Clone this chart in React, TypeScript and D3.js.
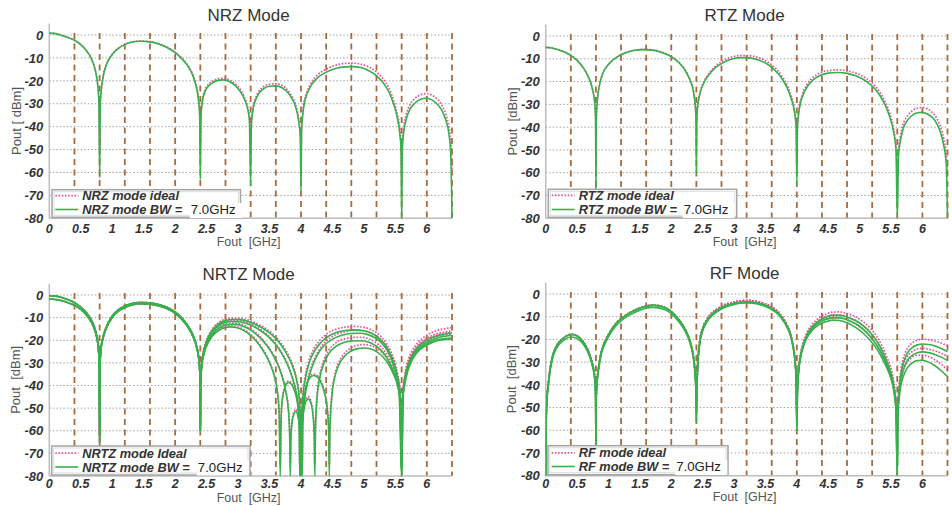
import React from "react";
import * as d3 from "d3";

type Pt = [number, number];

// ---------- axis / label data ----------
const xTickValues = [0, 0.5, 1, 1.5, 2, 2.5, 3, 3.5, 4, 4.5, 5, 5.5, 6];
const xTickLabels = ["0", "0.5", "1", "1.5", "2", "2.5", "3", "3.5", "4", "4.5", "5", "5.5", "6"];
const yTickValues = [0, -10, -20, -30, -40, -50, -60, -70, -80];
const yTickLabels = ["0", "-10", "-20", "-30", "-40", "-50", "-60", "-70", "-80"];
const gridFreqs = [0.4, 0.8, 1.2, 1.6, 2.0, 2.4, 2.8, 3.2, 3.6, 4.0, 4.4, 4.8, 5.2, 5.6, 6.0, 6.4];
const panelTitles = ["NRZ Mode", "RTZ Mode", "NRTZ Mode", "RF Mode"];
const yAxisLabels = ["Pout [ dBm]", "Pout  [dBm]", "Pout  [dBm]", "Pout  [dBm]"];
const xAxisLabel = "Fout  [GHz]";
const legendIdealLabels = ["NRZ mode ideal", "RTZ mode ideal", "NRTZ mode Ideal", "RF mode ideal"];
const legendBwLabels = ["NRZ mode BW =", "RTZ mode BW =", "NRTZ mode BW =", "RF mode BW ="];
const bwValueLabel = "7.0GHz";

// ---------- NRZ ----------
const nrzBw: Pt[] = [
  [0, 0.8], [0.1, 0.6], [0.2, -0.2], [0.3, -1.1], [0.4, -2.3], [0.5, -4.2], [0.6, -7.2], [0.65, -9.3], [0.7, -12.5],
  [0.74, -16.5], [0.77, -22], [0.79, -30], [0.8, -62], [0.81, -30], [0.83, -23], [0.86, -17.5], [0.9, -13.5], [1.0, -8.5],
  [1.1, -5.8], [1.2, -4.2], [1.3, -3.2], [1.45, -2.7], [1.6, -3.0], [1.7, -3.6], [1.8, -4.6], [1.9, -5.9], [2.0, -7.7],
  [2.1, -10.2], [2.2, -13.5], [2.27, -17], [2.33, -22], [2.37, -28], [2.39, -35], [2.4, -63], [2.41, -36], [2.43, -29.5],
  [2.47, -25], [2.53, -22.3], [2.6, -20.8], [2.68, -19.8], [2.75, -19.6], [2.85, -20.2], [2.95, -22], [3.03, -24.5],
  [3.1, -28], [3.15, -32], [3.18, -37], [3.2, -66], [3.21, -40], [3.23, -34], [3.27, -29], [3.33, -25.5], [3.42, -23.2],
  [3.5, -22.4], [3.6, -22.2], [3.7, -23], [3.78, -24.8], [3.85, -27.5], [3.91, -31], [3.96, -37], [3.99, -45], [4.0, -68],
  [4.01, -42], [4.04, -32], [4.08, -27], [4.15, -22.5], [4.25, -19], [4.4, -16.2], [4.55, -14.6], [4.7, -13.9], [4.82, -13.8],
  [4.95, -14.2], [5.08, -15.6], [5.2, -17.8], [5.3, -20.6], [5.4, -25], [5.47, -30], [5.53, -36], [5.57, -43], [5.59, -50],
  [5.6, -80], [5.61, -50], [5.63, -43], [5.67, -37], [5.73, -32.5], [5.8, -30], [5.9, -28], [5.98, -27.6], [6.07, -28.2],
  [6.15, -29.8], [6.23, -32.5], [6.3, -37], [6.35, -43], [6.38, -52], [6.4, -80],
];
const nrzIdeal: Pt[] = [
  [0, 0.8], [0.1, 0.6], [0.2, -0.2], [0.3, -1.1], [0.4, -2.3], [0.5, -4.2], [0.6, -7.2], [0.65, -9.3], [0.7, -12.5],
  [0.74, -16.5], [0.77, -22], [0.79, -30], [0.8, -50], [0.81, -30], [0.83, -23], [0.86, -17.5], [0.9, -13.4], [1.0, -8.4],
  [1.1, -5.7], [1.2, -4.1], [1.3, -3.1], [1.45, -2.6], [1.6, -2.9], [1.7, -3.4], [1.8, -4.4], [1.9, -5.7], [2.0, -7.5],
  [2.1, -9.9], [2.2, -13.2], [2.27, -16.6], [2.33, -21.5], [2.37, -27.5], [2.39, -34], [2.4, -50], [2.41, -35], [2.43, -29],
  [2.47, -24.3], [2.53, -21.6], [2.6, -20.1], [2.68, -19.1], [2.75, -18.9], [2.85, -19.5], [2.95, -21.2], [3.03, -23.6],
  [3.1, -27], [3.15, -31], [3.18, -36], [3.2, -50], [3.21, -39], [3.23, -33], [3.27, -28.2], [3.33, -24.6], [3.42, -22.3],
  [3.5, -21.5], [3.6, -21.3], [3.7, -22], [3.78, -23.8], [3.85, -26.5], [3.91, -30], [3.96, -36], [3.99, -44], [4.0, -55],
  [4.01, -41], [4.04, -31], [4.08, -26], [4.15, -21.5], [4.25, -17.8], [4.4, -14.9], [4.55, -13.2], [4.7, -12.4], [4.82, -12.3],
  [4.95, -12.7], [5.08, -14], [5.2, -16.2], [5.3, -19], [5.4, -23.3], [5.47, -28.3], [5.53, -34.5], [5.57, -41], [5.59, -48],
  [5.6, -60], [5.61, -48], [5.63, -41], [5.67, -35], [5.73, -30.5], [5.8, -28], [5.9, -26.1], [5.98, -25.6], [6.07, -26.1],
  [6.15, -27.6], [6.23, -30.2], [6.3, -34.5], [6.35, -40], [6.38, -46], [6.4, -60],
];

// ---------- RTZ ----------
const rtzBw: Pt[] = [
  [0, -5], [0.1, -5.3], [0.2, -6], [0.3, -7], [0.4, -8.5], [0.5, -10.7], [0.6, -14], [0.66, -16.8], [0.71, -20], [0.75, -24],
  [0.78, -29], [0.795, -37], [0.8, -68], [0.805, -37], [0.82, -29], [0.85, -22.5], [0.9, -17], [0.97, -13.5], [1.05, -11],
  [1.15, -9], [1.25, -7.6], [1.4, -6.4], [1.55, -6], [1.7, -6.2], [1.85, -7.2], [1.95, -8.3], [2.05, -10], [2.15, -12.5],
  [2.23, -15.5], [2.3, -19.5], [2.35, -24], [2.38, -30], [2.395, -37], [2.4, -60], [2.405, -38], [2.42, -31], [2.46, -25],
  [2.52, -20.5], [2.6, -17], [2.7, -14], [2.82, -11.8], [2.95, -10.2], [3.1, -9.5], [3.25, -9.6], [3.4, -10.6], [3.52, -12.2],
  [3.62, -14.2], [3.7, -16.5], [3.78, -19.5], [3.85, -23], [3.91, -27.5], [3.96, -33], [3.99, -40], [4.0, -65], [4.01, -40],
  [4.04, -32], [4.09, -26.5], [4.16, -22.5], [4.25, -19.5], [4.37, -17.3], [4.5, -16.3], [4.65, -16], [4.8, -16.4],
  [4.95, -17.6], [5.1, -19.8], [5.22, -22.5], [5.32, -26], [5.41, -30.5], [5.48, -35.5], [5.54, -42], [5.58, -50], [5.6, -80],
  [5.62, -52], [5.65, -46], [5.69, -41], [5.75, -37.5], [5.83, -35], [5.92, -33.7], [6.0, -33.5], [6.08, -34.2], [6.16, -35.8],
  [6.23, -38.5], [6.29, -42.5], [6.34, -48], [6.38, -56], [6.4, -80],
];
const rtzIdeal: Pt[] = [
  [0, -5], [0.1, -5.3], [0.2, -6], [0.3, -7], [0.4, -8.5], [0.5, -10.7], [0.6, -14], [0.66, -16.8], [0.71, -20], [0.75, -24],
  [0.78, -29], [0.795, -37], [0.8, -50], [0.805, -37], [0.82, -29], [0.85, -22.5], [0.9, -17], [0.97, -13.5], [1.05, -11],
  [1.15, -9], [1.25, -7.6], [1.4, -6.3], [1.55, -5.9], [1.7, -6.1], [1.85, -7.1], [1.95, -8.2], [2.05, -9.8], [2.15, -12.3],
  [2.23, -15.2], [2.3, -19.2], [2.35, -23.5], [2.38, -29.5], [2.395, -36], [2.4, -50], [2.405, -37], [2.42, -30.5], [2.46, -24.5],
  [2.52, -20], [2.6, -16.4], [2.7, -13.3], [2.82, -11], [2.95, -9.3], [3.1, -8.6], [3.25, -8.7], [3.4, -9.6], [3.52, -11.2],
  [3.62, -13.1], [3.7, -15.3], [3.78, -18.3], [3.85, -21.8], [3.91, -26.3], [3.96, -32], [3.99, -39], [4.0, -55], [4.01, -39],
  [4.04, -31], [4.09, -25.5], [4.16, -21.4], [4.25, -18.4], [4.37, -16.2], [4.5, -15.2], [4.65, -14.9], [4.8, -15.3],
  [4.95, -16.4], [5.1, -18.5], [5.22, -21.2], [5.32, -24.6], [5.41, -29], [5.48, -34], [5.54, -40.5], [5.58, -48], [5.6, -60],
  [5.62, -50], [5.65, -44], [5.69, -39], [5.75, -35.5], [5.83, -33], [5.92, -31.7], [6.0, -31.4], [6.08, -32], [6.16, -33.6],
  [6.23, -36.2], [6.29, -40], [6.34, -45], [6.38, -52], [6.4, -60],
];

// ---------- NRTZ ----------
const nrtzLowA: Pt[] = [
  [0, -0.3], [0.1, -0.5], [0.2, -1.1], [0.3, -2.1], [0.4, -3.4], [0.5, -5.3], [0.6, -8.2], [0.66, -10.6], [0.71, -13.6],
  [0.75, -17.5], [0.78, -23], [0.795, -31], [0.8, -65], [0.805, -31], [0.82, -24], [0.85, -19], [0.9, -14.5], [1.0, -9.3],
  [1.1, -6.5], [1.2, -4.9], [1.3, -3.9], [1.45, -3.3], [1.6, -3.5], [1.75, -4.3], [1.9, -5.8], [2.0, -7.5], [2.1, -10],
  [2.2, -13.5], [2.28, -17.5], [2.34, -22.5], [2.38, -29], [2.395, -36], [2.4, -60],
];
const nrtzLowB: Pt[] = [
  [0, -1.8], [0.1, -2], [0.2, -2.5], [0.3, -3.4], [0.4, -4.6], [0.5, -6.4], [0.6, -9.2], [0.66, -11.6], [0.71, -14.5],
  [0.75, -18.3], [0.78, -23.8], [0.795, -31.5], [0.8, -62], [0.805, -31.5], [0.82, -24.6], [0.85, -19.6], [0.9, -15.1],
  [1.0, -9.9], [1.1, -7.1], [1.2, -5.5], [1.3, -4.5], [1.45, -3.9], [1.6, -4.1], [1.75, -4.9], [1.9, -6.4], [2.0, -8.1],
  [2.1, -10.6], [2.2, -14.1], [2.28, -18.1], [2.34, -23], [2.38, -29.5], [2.395, -36.5], [2.4, -58],
];
const nrtzHighG1: Pt[] = [
  [2.405, -38], [2.42, -31], [2.46, -24], [2.52, -19], [2.6, -15.2], [2.7, -12.6], [2.8, -11.3], [2.92, -10.8], [3.03, -10.9],
  [3.15, -11.6], [3.27, -12.9], [3.4, -14.8], [3.52, -17.2], [3.63, -20.2], [3.73, -24], [3.82, -28.5], [3.89, -33.5],
  [3.94, -39], [3.97, -45], [3.99, -55], [4.0, -80], [4.01, -55], [4.03, -45], [4.07, -37], [4.13, -30], [4.2, -25.5],
  [4.3, -21.5], [4.42, -18.5], [4.55, -16.7], [4.7, -15.7], [4.85, -15.4], [5.0, -15.8], [5.12, -16.9], [5.23, -18.8],
  [5.33, -21.8], [5.42, -26], [5.49, -31], [5.54, -37], [5.58, -45], [5.6, -80], [5.62, -45], [5.65, -37], [5.7, -31],
  [5.77, -26.5], [5.86, -23], [5.96, -20.7], [6.07, -19], [6.2, -17.8], [6.3, -17.2], [6.4, -16.8],
];
const nrtzHighG2: Pt[] = [
  [2.405, -39], [2.42, -31.5], [2.46, -24.6], [2.52, -19.7], [2.6, -16], [2.7, -13.4], [2.8, -12.1], [2.9, -11.7], [3.0, -11.8],
  [3.12, -12.5], [3.24, -13.8], [3.36, -15.8], [3.48, -18.4], [3.59, -21.7], [3.69, -25.7], [3.78, -30.5], [3.85, -35.5],
  [3.91, -41.5], [3.95, -48], [3.97, -56], [3.98, -80], [3.99, -70], [4.0, -67], [4.01, -70], [4.02, -80], [4.03, -56],
  [4.06, -46], [4.11, -38], [4.18, -31.5], [4.27, -26], [4.38, -22], [4.5, -19.5], [4.65, -17.8], [4.8, -17], [4.93, -16.9],
  [5.05, -17.4], [5.17, -18.8], [5.28, -21.2], [5.38, -25], [5.46, -30], [5.52, -35.5], [5.57, -43], [5.6, -80], [5.62, -44],
  [5.65, -37.5], [5.7, -31.5], [5.77, -27], [5.86, -23.8], [5.96, -21.6], [6.07, -20], [6.2, -18.7], [6.3, -18.2], [6.4, -17.9],
];
const nrtzHighG3: Pt[] = [
  [2.405, -39.5], [2.42, -32], [2.46, -25.3], [2.52, -20.6], [2.6, -17], [2.7, -14.6], [2.8, -13.3], [2.9, -12.9], [3.0, -13.1],
  [3.1, -14], [3.2, -15.5], [3.3, -17.6], [3.4, -20.4], [3.5, -24], [3.58, -27.8], [3.65, -32], [3.71, -37], [3.76, -43],
  [3.8, -51], [3.82, -62], [3.83, -80], [3.84, -64], [3.86, -56], [3.89, -52.5], [3.92, -51.5], [3.95, -53.5], [3.98, -60],
  [4.0, -80], [4.02, -58], [4.05, -50], [4.09, -46.5], [4.12, -46], [4.16, -48], [4.19, -53], [4.21, -62], [4.22, -80],
  [4.23, -60], [4.26, -44], [4.3, -36.5], [4.36, -30.5], [4.44, -26], [4.55, -22.8], [4.68, -21], [4.82, -20.3], [4.95, -20.2],
  [5.07, -20.8], [5.18, -22.3], [5.28, -24.6], [5.37, -28], [5.45, -32.5], [5.51, -37], [5.56, -44], [5.6, -80], [5.62, -45],
  [5.65, -38.5], [5.7, -32.5], [5.77, -27.8], [5.86, -24.4], [5.96, -22.3], [6.07, -20.8], [6.2, -19.6], [6.3, -19.2], [6.4, -19],
];
const nrtzHighG4: Pt[] = [
  [2.405, -40], [2.42, -32.5], [2.46, -26], [2.52, -21.4], [2.6, -17.9], [2.7, -15.6], [2.8, -14.4], [2.88, -14.1], [2.97, -14.4],
  [3.07, -15.4], [3.17, -17.2], [3.27, -19.8], [3.37, -23.4], [3.46, -27.6], [3.53, -32], [3.59, -37.5], [3.63, -44],
  [3.655, -54], [3.67, -80], [3.685, -54], [3.71, -45], [3.75, -40.5], [3.8, -38.6], [3.85, -39.5], [3.9, -42.5], [3.94, -47],
  [3.97, -54], [3.99, -64], [4.0, -80], [4.01, -62], [4.04, -48], [4.08, -40.5], [4.13, -37], [4.2, -35.6], [4.27, -36.5],
  [4.33, -39.5], [4.38, -44], [4.42, -51], [4.44, -60], [4.45, -80], [4.46, -60], [4.49, -45], [4.54, -36], [4.6, -31],
  [4.68, -27.5], [4.78, -25], [4.9, -23.7], [5.0, -23.4], [5.1, -23.8], [5.2, -25], [5.3, -27.3], [5.39, -30.5], [5.47, -35],
  [5.53, -39.5], [5.57, -45], [5.6, -80], [5.62, -46], [5.65, -39.5], [5.7, -33.5], [5.77, -28.6], [5.86, -25], [5.96, -22.8],
  [6.07, -21.2], [6.2, -20], [6.3, -19.6], [6.4, -19.4],
];
const nrtzHighP1: Pt[] = [
  [2.405, -38], [2.42, -30.5], [2.46, -23.5], [2.52, -18.5], [2.6, -14.7], [2.7, -12], [2.8, -10.7], [2.92, -10.2], [3.03, -10.3],
  [3.15, -11], [3.27, -12.3], [3.4, -14.1], [3.52, -16.5], [3.63, -19.4], [3.73, -23.2], [3.82, -27.7], [3.89, -32.7],
  [3.94, -38.2], [3.97, -44], [3.99, -53], [4.0, -75], [4.01, -53], [4.03, -43.5], [4.07, -35.5], [4.13, -28.5], [4.2, -24],
  [4.3, -20], [4.42, -17], [4.55, -15.2], [4.7, -14.2], [4.85, -13.9], [5.0, -14.3], [5.12, -15.4], [5.23, -17.3], [5.33, -20.3],
  [5.42, -24.5], [5.49, -29.5], [5.54, -35.5], [5.58, -43], [5.6, -60], [5.62, -43], [5.65, -35.5], [5.7, -29.2], [5.77, -24.5],
  [5.86, -21], [5.96, -18.5], [6.07, -16.7], [6.2, -15.4], [6.3, -14.8], [6.4, -14.4],
];
const nrtzHighP2: Pt[] = [
  [2.405, -39], [2.42, -31], [2.46, -24.1], [2.52, -19.2], [2.6, -15.5], [2.7, -12.9], [2.8, -11.6], [2.9, -11.2], [3.0, -11.3],
  [3.12, -12], [3.24, -13.3], [3.36, -15.3], [3.48, -17.9], [3.59, -21.2], [3.69, -25.2], [3.78, -30], [3.85, -35], [3.91, -41],
  [3.95, -47.5], [3.97, -55], [3.98, -75], [4.0, -66], [4.02, -75], [4.03, -55], [4.06, -45], [4.11, -37], [4.18, -30.5],
  [4.27, -25], [4.38, -20.9], [4.5, -18.3], [4.65, -16.6], [4.8, -15.8], [4.93, -15.7], [5.05, -16.2], [5.17, -17.6], [5.28, -20],
  [5.38, -23.8], [5.46, -28.8], [5.52, -34.3], [5.57, -42], [5.6, -60], [5.62, -42.5], [5.65, -36], [5.7, -30], [5.77, -25.4],
  [5.86, -22.1], [5.96, -19.8], [6.07, -18.1], [6.2, -16.8], [6.3, -16.3], [6.4, -16],
];
const nrtzHighP3: Pt[] = [
  [2.405, -39], [2.42, -31.5], [2.46, -24.8], [2.52, -20.1], [2.6, -16.5], [2.7, -14.1], [2.8, -12.8], [2.9, -12.4], [3.0, -12.6],
  [3.1, -13.5], [3.2, -15], [3.3, -17.1], [3.4, -19.9], [3.5, -23.5], [3.58, -27.3], [3.65, -31.5], [3.71, -36.5], [3.76, -42.5],
  [3.8, -50], [3.82, -60], [3.83, -75], [3.84, -62], [3.86, -55], [3.89, -51.5], [3.92, -50.5], [3.95, -52.5], [3.98, -59],
  [4.0, -75], [4.02, -57], [4.05, -49], [4.09, -45.5], [4.12, -45], [4.16, -47], [4.19, -52], [4.21, -60], [4.22, -75],
  [4.23, -58], [4.26, -42.5], [4.3, -35], [4.36, -29], [4.44, -24.5], [4.55, -21.3], [4.68, -19.5], [4.82, -18.8], [4.95, -18.7],
  [5.07, -19.3], [5.18, -20.8], [5.28, -23.1], [5.37, -26.5], [5.45, -31], [5.51, -35.5], [5.56, -42.5], [5.6, -60], [5.62, -43.5],
  [5.65, -37], [5.7, -31], [5.77, -26.2], [5.86, -22.6], [5.96, -20.3], [6.07, -18.7], [6.2, -17.4], [6.3, -16.9], [6.4, -16.6],
];
const nrtzHighP4: Pt[] = [
  [2.405, -39.5], [2.42, -32], [2.46, -25.5], [2.52, -20.9], [2.6, -17.4], [2.7, -15.1], [2.8, -13.9], [2.88, -13.6], [2.97, -13.9],
  [3.07, -14.9], [3.17, -16.7], [3.27, -19.3], [3.37, -22.9], [3.46, -27.1], [3.53, -31.5], [3.59, -37], [3.63, -43.5],
  [3.655, -53], [3.67, -75], [3.685, -53], [3.71, -44.5], [3.75, -40], [3.8, -38], [3.85, -38.9], [3.9, -41.9], [3.94, -46.4],
  [3.97, -53.4], [3.99, -63], [4.0, -75], [4.01, -61], [4.04, -47.4], [4.08, -39.9], [4.13, -36.4], [4.2, -35], [4.27, -35.9],
  [4.33, -38.9], [4.38, -43.4], [4.42, -50.4], [4.44, -59], [4.45, -75], [4.46, -59], [4.49, -44], [4.54, -35], [4.6, -29.8],
  [4.68, -26.2], [4.78, -23.6], [4.9, -22.2], [5.0, -21.9], [5.1, -22.3], [5.2, -23.5], [5.3, -25.8], [5.39, -29], [5.47, -33.5],
  [5.53, -38], [5.57, -43.5], [5.6, -60], [5.62, -44.5], [5.65, -38], [5.7, -32], [5.77, -27.1], [5.86, -23.4], [5.96, -21.1],
  [6.07, -19.4], [6.2, -18.1], [6.3, -17.6], [6.4, -17.3],
];

// ---------- RF ----------
const rfLowA: Pt[] = [
  [0, -80], [0.008, -55], [0.02, -46], [0.04, -40], [0.065, -34], [0.1, -28.5], [0.17, -23], [0.28, -19.5], [0.41, -17.8],
  [0.5, -18.5], [0.59, -20.8], [0.66, -24], [0.71, -27.5], [0.75, -31.5], [0.78, -36.5], [0.795, -44], [0.8, -70], [0.805, -45],
  [0.82, -38], [0.85, -31], [0.89, -25], [0.97, -19.5], [1.04, -16], [1.12, -13], [1.22, -10.5], [1.34, -8.3], [1.47, -6.6],
  [1.6, -5.4], [1.7, -5], [1.8, -5.2], [1.92, -6.3], [2.0, -7.8], [2.08, -10], [2.16, -12.8], [2.24, -16.6], [2.29, -20],
  [2.33, -24], [2.36, -29], [2.38, -35], [2.395, -43], [2.4, -56], [2.405, -45], [2.42, -32], [2.45, -22], [2.5, -15.5],
  [2.56, -12], [2.65, -8.8], [2.75, -6.8], [2.87, -5.1], [3.0, -4.1], [3.1, -3.6], [3.2, -3.4], [3.3, -3.6], [3.4, -4.1],
  [3.5, -5], [3.6, -6.3], [3.7, -8.4], [3.78, -11.2], [3.85, -14.5], [3.9, -18], [3.94, -23], [3.97, -29], [3.99, -38], [4.0, -60],
];
const rfLowB: Pt[] = [
  [0, -80], [0.008, -56], [0.02, -47], [0.04, -41], [0.065, -35], [0.1, -29.5], [0.17, -24], [0.28, -20.5], [0.41, -18.9],
  [0.5, -19.6], [0.59, -21.8], [0.66, -25], [0.71, -28.5], [0.75, -32.5], [0.78, -37.5], [0.795, -45], [0.8, -68], [0.805, -46],
  [0.82, -39], [0.85, -32], [0.89, -26], [0.97, -20.5], [1.04, -17], [1.12, -14], [1.22, -11.4], [1.34, -9.2], [1.47, -7.5],
  [1.6, -6.3], [1.7, -5.9], [1.8, -6.1], [1.92, -7.2], [2.0, -8.7], [2.08, -10.9], [2.16, -13.7], [2.24, -17.5], [2.29, -20.9],
  [2.33, -24.9], [2.36, -29.9], [2.38, -35.9], [2.395, -44], [2.4, -55], [2.405, -46], [2.42, -33], [2.45, -22.9], [2.5, -16.3],
  [2.56, -12.7], [2.65, -9.5], [2.75, -7.4], [2.87, -5.7], [3.0, -4.6], [3.1, -4.1], [3.2, -3.9], [3.3, -4.1], [3.4, -4.6],
  [3.5, -5.5], [3.6, -6.8], [3.7, -8.9], [3.78, -11.7], [3.85, -15], [3.9, -18.5], [3.94, -23.5], [3.97, -29.5], [3.99, -38.5], [4.0, -58],
];
const rfLowIdeal: Pt[] = [
  [0, -70], [0.008, -55], [0.02, -46], [0.04, -40], [0.065, -34], [0.1, -28.5], [0.17, -23], [0.28, -19.5], [0.41, -17.7],
  [0.5, -18.4], [0.59, -20.7], [0.66, -23.9], [0.71, -27.4], [0.75, -31.4], [0.78, -36.4], [0.795, -44], [0.8, -55], [0.805, -45],
  [0.82, -38], [0.85, -31], [0.89, -25], [0.97, -19.4], [1.04, -15.9], [1.12, -12.9], [1.22, -10.4], [1.34, -8.2], [1.47, -6.5],
  [1.6, -5.3], [1.7, -4.9], [1.8, -5.1], [1.92, -6.2], [2.0, -7.7], [2.08, -9.9], [2.16, -12.7], [2.24, -16.5], [2.29, -19.9],
  [2.33, -23.9], [2.36, -28.9], [2.38, -34.9], [2.395, -43], [2.4, -50], [2.405, -44], [2.42, -31.5], [2.45, -21.4], [2.5, -14.9],
  [2.56, -11.4], [2.65, -8.2], [2.75, -6.2], [2.87, -4.5], [3.0, -3.5], [3.1, -3], [3.2, -2.8], [3.3, -3], [3.4, -3.5],
  [3.5, -4.4], [3.6, -5.7], [3.7, -7.8], [3.78, -10.6], [3.85, -13.9], [3.9, -17.4], [3.94, -22.4], [3.97, -28.4], [3.99, -37.4], [4.0, -50],
];
const rfHighG1: Pt[] = [
  [4.01, -42], [4.03, -33], [4.06, -27], [4.1, -22.5], [4.16, -18], [4.25, -14.3], [4.35, -11.8], [4.46, -10.2], [4.57, -9.4],
  [4.68, -9.4], [4.8, -10.2], [4.94, -11.8], [5.07, -14.3], [5.18, -17.3], [5.28, -21], [5.36, -25], [5.43, -29.5], [5.49, -34],
  [5.54, -40], [5.58, -50], [5.6, -80], [5.61, -52], [5.63, -42], [5.66, -35], [5.7, -30], [5.76, -26], [5.83, -23.8],
  [5.92, -22.4], [6.0, -22], [6.1, -22.2], [6.2, -22.9], [6.3, -24], [6.4, -25.4],
];
const rfHighG2: Pt[] = [
  [4.01, -42], [4.03, -33.5], [4.06, -27.5], [4.1, -23], [4.16, -18.7], [4.25, -15], [4.35, -12.7], [4.46, -11.2], [4.57, -10.5],
  [4.68, -10.5], [4.8, -11.4], [4.94, -13.1], [5.07, -15.8], [5.18, -19], [5.28, -22.8], [5.36, -26.8], [5.43, -31], [5.49, -35.5],
  [5.54, -41], [5.58, -51], [5.6, -80], [5.61, -53], [5.63, -44], [5.66, -37.5], [5.7, -33], [5.76, -29.3], [5.83, -27.2],
  [5.92, -25.9], [6.0, -25.5], [6.1, -25.8], [6.2, -26.6], [6.3, -27.8], [6.4, -29.3],
];
const rfHighG3: Pt[] = [
  [4.01, -43], [4.03, -34], [4.06, -28], [4.1, -23.6], [4.16, -19.4], [4.25, -15.8], [4.35, -13.6], [4.46, -12.2], [4.57, -11.5],
  [4.68, -11.7], [4.8, -12.7], [4.94, -14.8], [5.07, -17.6], [5.18, -20.8], [5.28, -24.5], [5.36, -28.3], [5.43, -32.3],
  [5.49, -36.5], [5.54, -42], [5.58, -52], [5.6, -80], [5.61, -54], [5.63, -46], [5.66, -40], [5.7, -36], [5.76, -32.5],
  [5.83, -30.5], [5.92, -29.3], [6.0, -29.2], [6.1, -30], [6.2, -31.6], [6.3, -33.8], [6.4, -36.4],
];
const rfHighP1: Pt[] = [
  [4.01, -41], [4.03, -32], [4.06, -26], [4.1, -21.5], [4.16, -17], [4.25, -13.2], [4.35, -10.6], [4.46, -8.9], [4.57, -8],
  [4.68, -7.9], [4.8, -8.6], [4.94, -10.1], [5.07, -12.5], [5.18, -15.4], [5.28, -19], [5.36, -23], [5.43, -27.5], [5.49, -32],
  [5.54, -38], [5.58, -47], [5.6, -60], [5.61, -50], [5.63, -40], [5.66, -33], [5.7, -28], [5.76, -24], [5.83, -21.7],
  [5.92, -20.3], [6.0, -19.9], [6.1, -20.1], [6.2, -20.7], [6.3, -21.6], [6.4, -22.8],
];
const rfHighP2: Pt[] = [
  [4.01, -41.5], [4.03, -32.5], [4.06, -26.5], [4.1, -22], [4.16, -17.8], [4.25, -14], [4.35, -11.6], [4.46, -10], [4.57, -9.2],
  [4.68, -9.2], [4.8, -10], [4.94, -11.7], [5.07, -14.2], [5.18, -17.2], [5.28, -20.9], [5.36, -24.9], [5.43, -29.2], [5.49, -33.7],
  [5.54, -39.5], [5.58, -48], [5.6, -60], [5.61, -51], [5.63, -42], [5.66, -35.5], [5.7, -31], [5.76, -27.5], [5.83, -25.5],
  [5.92, -24.2], [6.0, -23.9], [6.1, -24.3], [6.2, -25], [6.3, -26.1], [6.4, -27.5],
];
const rfHighP3: Pt[] = [
  [4.01, -42], [4.03, -33], [4.06, -27], [4.1, -22.6], [4.16, -18.5], [4.25, -14.8], [4.35, -12.5], [4.46, -11], [4.57, -10.3],
  [4.68, -10.4], [4.8, -11.3], [4.94, -13.3], [5.07, -16], [5.18, -19.2], [5.28, -22.9], [5.36, -26.8], [5.43, -30.8], [5.49, -35],
  [5.54, -40.5], [5.58, -49], [5.6, -60], [5.61, -52], [5.63, -44], [5.66, -37.5], [5.7, -33.5], [5.76, -30], [5.83, -28],
  [5.92, -27], [6.0, -26.9], [6.1, -27.6], [6.2, -29], [6.3, -31], [6.4, -33.5],
];

const panelGreen: Pt[][][] = [
  [nrzBw],
  [rtzBw],
  [[...nrtzLowA, ...nrtzHighG1], [...nrtzLowA, ...nrtzHighG2], [...nrtzLowB, ...nrtzHighG3], [...nrtzLowB, ...nrtzHighG4]],
  [[...rfLowA, ...rfHighG1], [...rfLowA, ...rfHighG2], [...rfLowB, ...rfHighG3]],
];
const panelPink: Pt[][][] = [
  [nrzIdeal],
  [rtzIdeal],
  [[...nrtzLowA, ...nrtzHighP1], [...nrtzLowA, ...nrtzHighP2], [...nrtzLowB, ...nrtzHighP3], [...nrtzLowB, ...nrtzHighP4]],
  [[...rfLowIdeal, ...rfHighP1], [...rfLowIdeal, ...rfHighP2], [...rfLowIdeal, ...rfHighP3]],
];

// ---------- layout (pixels) ----------
const layouts = [
  { x0: 49.3, x1: 452, y0: 35, yB: 218.3, titleY: 20.7, yLabX: 16, xTickDy: 14.5, xLabDy: 28, legDx: 2.7, legTop: 28.6, legW: 188.5, legH: 27.6, row1: 18.2, row2: 4.3, ghzDx: 141.5 },
  { x0: 545.7, x1: 947.5, y0: 36, yB: 218.3, titleY: 20.7, yLabX: 512, xTickDy: 14.5, xLabDy: 28, legDx: 2.6, legTop: 29, legW: 188.4, legH: 28, row1: 18.4, row2: 4.3, ghzDx: 138 },
  { x0: 49.3, x1: 452, y0: 295, yB: 476, titleY: 280, yLabX: 15, xTickDy: 12, xLabDy: 25.5, legDx: 2.4, legTop: 30, legW: 198.3, legH: 29, row1: 18.4, row2: 4.5, ghzDx: 148.5 },
  { x0: 545.7, x1: 947.5, y0: 294, yB: 475.7, titleY: 279, yLabX: 511.7, xTickDy: 12, xLabDy: 25.5, legDx: 2.3, legTop: 30, legW: 180, legH: 29, row1: 18.4, row2: 4.7, ghzDx: 130.5 },
];

const FONT = "'Liberation Sans', Arial, Helvetica, sans-serif";
const GREEN = "#36b04b";
const PINK = "#ea4f9b";
const BROWN = "#a86b3d";

function Panel({ idx }: { idx: number }) {
  const L = layouts[idx];
  const x = d3.scaleLinear().domain([0, 6.4]).range([L.x0, L.x1]);
  const y = d3.scaleLinear().domain([-80, 0]).range([L.yB, L.y0]);
  const top = y(5);
  const line = d3
    .line<Pt>()
    .x((d) => x(d[0]))
    .y((d) => y(Math.max(-80, d[1])))
    .curve(d3.curveMonotoneX);
  const clipId = `clip-${idx}`;
  const midX = (L.x0 + L.x1) / 2 - 2;
  const legX = L.x0 + L.legDx;
  const legY = L.yB - L.legTop;
  const r1 = L.yB - L.row1;
  const r2 = L.yB - L.row2;
  return (
    <g>
      <defs>
        <clipPath id={clipId}>
          <rect x={L.x0} y={top} width={L.x1 - L.x0 + 1.5} height={L.yB - top + 0.8} />
        </clipPath>
      </defs>
      <text x={midX} y={L.titleY} textAnchor="middle" fontFamily={FONT} fontSize={17} fill="#333">
        {panelTitles[idx]}
      </text>
      {yTickValues.slice(0, -1).map((v) => (
        <line key={`h${v}`} x1={L.x0} x2={L.x1} y1={y(v)} y2={y(v)} stroke="#a3a3a3" strokeWidth={1} strokeDasharray="1.5 2" />
      ))}
      {gridFreqs.map((f) => (
        <line key={`v${f}`} x1={x(f)} x2={x(f)} y1={y(0) - 2} y2={L.yB} stroke={BROWN} strokeWidth={1.8} strokeDasharray="6 4.5" />
      ))}
      <line x1={L.x0} x2={L.x0} y1={top} y2={L.yB} stroke="#bcbcbc" strokeWidth={1.5} />
      <line x1={L.x0} x2={L.x1} y1={L.yB} y2={L.yB} stroke="#bcbcbc" strokeWidth={1.5} />
      <g clipPath={`url(#${clipId})`} fill="none">
        {panelPink[idx].map((s, i) => (
          <path key={`p${i}`} d={line(s) || ""} stroke={PINK} strokeWidth={1.7} strokeDasharray="1.6 1.6" />
        ))}
        {panelGreen[idx].map((s, i) => (
          <path key={`g${i}`} d={line(s) || ""} stroke={GREEN} strokeWidth={1.6} strokeLinejoin="round" />
        ))}
      </g>
      {yTickValues.map((v, i) => (
        <text key={`yt${v}`} x={L.x0 - 6} y={y(v)} dy="0.36em" textAnchor="end" fontFamily={FONT} fontSize={13}
          fontWeight="bold" fontStyle="italic" fill="#333">
          {yTickLabels[i]}
        </text>
      ))}
      {xTickValues.map((v, i) => (
        <text key={`xt${v}`} x={x(v)} y={L.yB + L.xTickDy} textAnchor="middle" fontFamily={FONT} fontSize={12.5}
          fontWeight="bold" fontStyle="italic" fill="#333">
          {xTickLabels[i]}
        </text>
      ))}
      <text x={midX} y={L.yB + L.xLabDy} textAnchor="middle" fontFamily={FONT} fontSize={12.5} fill="#555"
        style={{ whiteSpace: "pre" }}>
        {xAxisLabel}
      </text>
      <text transform={`translate(${L.yLabX},${(top + L.yB) / 2}) rotate(-90)`} textAnchor="middle" dy="0.35em"
        fontFamily={FONT} fontSize={13} fill="#555" style={{ whiteSpace: "pre" }}>
        {yAxisLabels[idx]}
      </text>
      <rect x={legX} y={legY} width={L.legW} height={L.legH} fill="#fff" stroke="#a5a5a5" strokeWidth={1.5} />
      <rect x={legX + 2} y={legY + 2} width={L.legW - 4} height={L.legH - 4} fill="none" stroke="#dcdcdc" strokeWidth={1} />
      <line x1={L.x0 + 6} x2={L.x0 + 29} y1={r1 - 4.5} y2={r1 - 4.5} stroke={PINK} strokeWidth={1.7} strokeDasharray="1.6 1.6" />
      <line x1={L.x0 + 6} x2={L.x0 + 29} y1={r2 - 4.5} y2={r2 - 4.5} stroke={GREEN} strokeWidth={1.6} />
      <text x={L.x0 + 33} y={r1} fontFamily={FONT} fontSize={12.8} fontWeight="bold" fontStyle="italic" fill="#333">
        {legendIdealLabels[idx]}
      </text>
      <text x={L.x0 + 33} y={r2} fontFamily={FONT} fontSize={12.8} fontWeight="bold" fontStyle="italic" fill="#333">
        {legendBwLabels[idx]}
      </text>
      <rect x={L.x0 + L.ghzDx - 1} y={r2 - 11} width={52} height={15} fill="#fff" />
      <text x={L.x0 + L.ghzDx} y={r2} fontFamily={FONT} fontSize={13.2} fill="#222">
        {bwValueLabel}
      </text>
    </g>
  );
}

export default function App() {
  return (
    <svg width={952} height={506} viewBox="0 0 952 506"
      style={{ position: "absolute", left: 0, top: 0, display: "block", background: "#fff" }}>
      <rect x={0} y={0} width={952} height={506} fill="#fff" />
      {[0, 1, 2, 3].map((i) => (
        <Panel key={i} idx={i} />
      ))}
    </svg>
  );
}
